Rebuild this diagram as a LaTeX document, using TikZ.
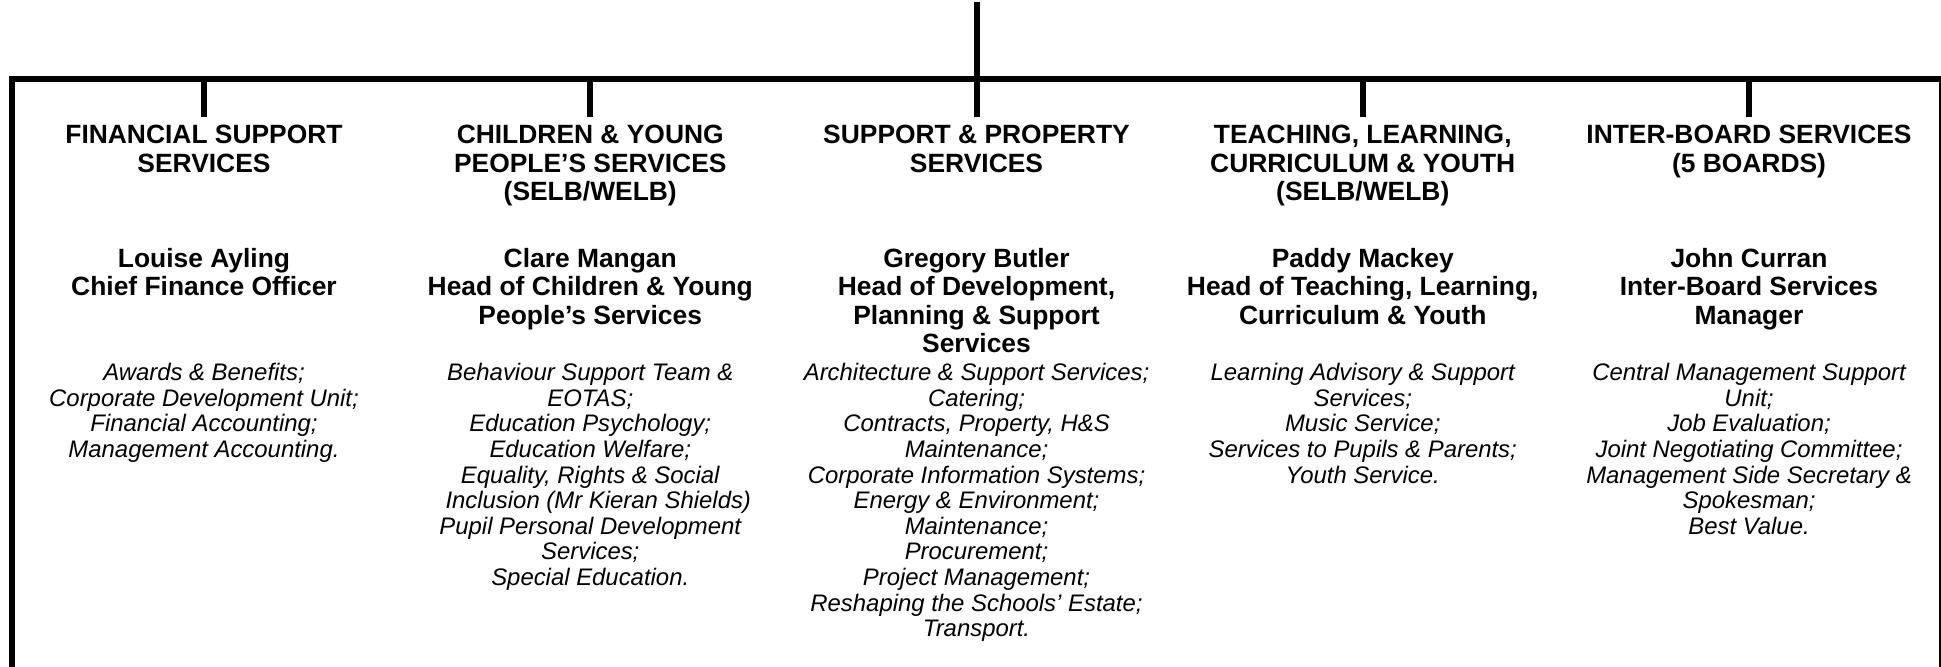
\documentclass[tikz,border=0pt]{standalone}
\usepackage{fontspec}
\setmainfont{Liberation Sans}

\begin{document}
\begin{tikzpicture}[x=0.5pt, y=-0.5pt, declare function={colw=386.25;},
    head/.style={anchor=north, inner sep=0pt, align=center, font=\bfseries\fontsize{13.2}{14.15}\selectfont},
    duties/.style={anchor=north, inner sep=0pt, align=center, font=\itshape\fontsize{11.95}{12.8}\selectfont},
    link/.style={line width=3pt}]
  \useasboundingbox (0,0) rectangle (1941,667);
  \coordinate (top) at (204+2*colw,2);
  \coordinate (bar) at (204+2*colw,79);
  \coordinate (lowL) at (12,667);
  \coordinate (lowR) at (1941.5,667);

  % five directorates
  \node[head] (finhead) at (204,125) {FINANCIAL SUPPORT\\SERVICES};
  \node[head] (cyphead) at (204+colw,125) {CHILDREN \& YOUNG\\PEOPLE'S SERVICES\\(SELB/WELB)};
  \node[head] (spthead) at (204+2*colw,125) {SUPPORT \& PROPERTY\\SERVICES};
  \node[head] (tlchead) at (204+3*colw,125) {TEACHING, LEARNING,\\CURRICULUM \& YOUTH\\(SELB/WELB)};
  \node[head] (ibshead) at (204+4*colw,125) {INTER-BOARD SERVICES\\(5 BOARDS)};

  % heads of service
  \node[head] (finname) at (204,248) {Louise Ayling\\Chief Finance Officer};
  \node[head] (cypname) at (204+colw,248) {Clare Mangan\\Head of Children \& Young\\People's Services};
  \node[head] (sptname) at (204+2*colw,248) {Gregory Butler\\Head of Development,\\Planning \& Support\\Services};
  \node[head] (tlcname) at (204+3*colw,248) {Paddy Mackey\\Head of Teaching, Learning,\\Curriculum \& Youth};
  \node[head] (ibsname) at (204+4*colw,248) {John Curran\\Inter-Board Services\\Manager};

  % sections under each head
  \node[duties] (finduty) at (204,363) {Awards \& Benefits;\\Corporate Development Unit;\\Financial Accounting;\\Management Accounting.};
  \node[duties] (cypduty) at (204+colw,363) {Behaviour Support Team \&\\EOTAS;\\Education Psychology;\\Education Welfare;\\Equality, Rights \& Social\hspace*{7pt}\\\hspace*{8pt}Inclusion (Mr Kieran Shields)\\Pupil Personal Development\\Services;\\Special Education.};
  \node[duties] (sptduty) at (204+2*colw,363) {Architecture \& Support Services;\\Catering;\\Contracts, Property, H\&S\\Maintenance;\\Corporate Information Systems;\\Energy \& Environment;\\Maintenance;\\Procurement;\\Project Management;\\Reshaping the Schools' Estate;\\Transport.};
  \node[duties] (tlcduty) at (204+3*colw,363) {Learning Advisory \& Support\\Services;\\Music Service;\\Services to Pupils \& Parents;\\Youth Service.};
  \node[duties] (ibsduty) at (204+4*colw,363) {Central Management Support\\Unit;\\Job Evaluation;\\Joint Negotiating Committee;\\Management Side Secretary \&\\Spokesman;\\Best Value.};

  % tree lines
  \draw[link] (top) -- (bar);
  \draw[link] (lowL) |- (bar) -| (lowR);
  \foreach \n in {finhead,cyphead,spthead,tlchead,ibshead}
    \draw[link, shorten >=4pt] (\n.north |- bar) -- (\n.north);
\end{tikzpicture}
\end{document}
